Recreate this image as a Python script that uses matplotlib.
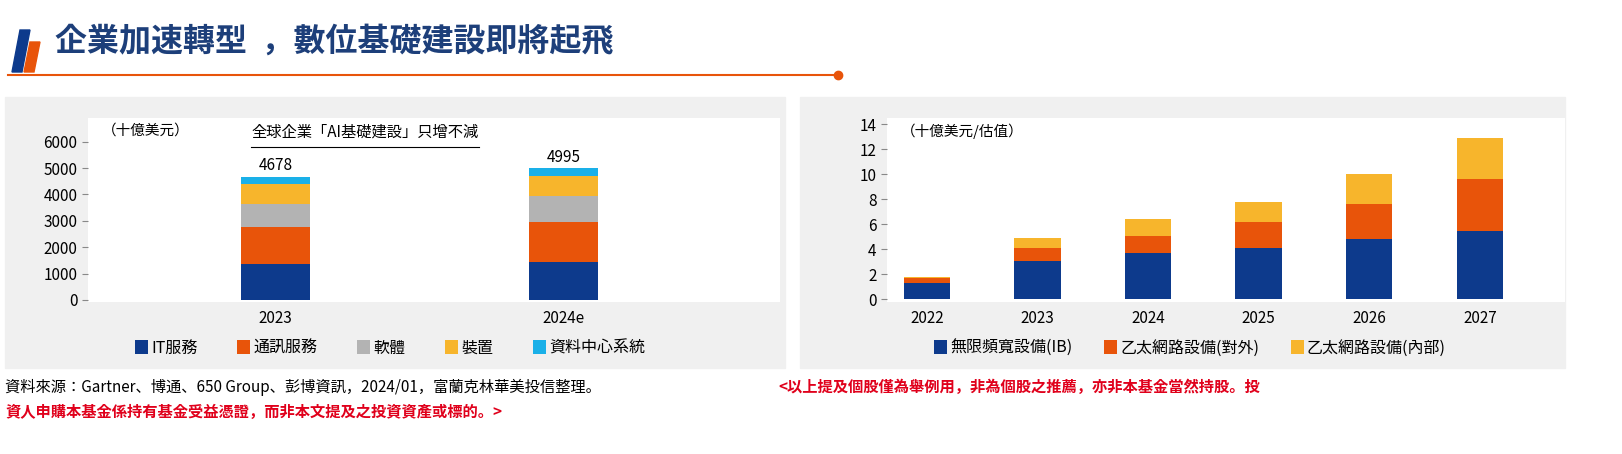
import matplotlib
matplotlib.use("Agg")
import matplotlib.pyplot as plt
from matplotlib import font_manager as fm
from matplotlib.patches import Rectangle, Polygon
from matplotlib.lines import Line2D
import numpy as np

cjk = [f.name for f in fm.fontManager.ttflist if "CJK" in f.name]
pref = [n for n in cjk if "TC" in n] or cjk
plt.rcParams["font.family"] = [pref[0] if pref else "Noto Sans CJK TC", "DejaVu Sans"]

left_cats = ["2023", "2024e"]
left_series = ["IT服務", "通訊服務", "軟體", "裝置", "資料中心系統"]
it_services = [1350, 1450]
comm_services = [1400, 1500]
software = [900, 1000]
devices = [730, 750]
datacenter = [298, 295]
left_totals = [4678, 4995]

right_cats = ["2022", "2023", "2024", "2025", "2026", "2027"]
right_series = ["無限頻寬設備(IB)", "乙太網路設備(對外)", "乙太網路設備(內部)"]
ib = [1.3, 3.1, 3.7, 4.1, 4.8, 5.5]
eth_ext = [0.4, 1.0, 1.4, 2.1, 2.8, 4.1]
eth_int = [0.1, 0.8, 1.3, 1.6, 2.4, 3.3]

navy, orange, gray, yellow, cyan = "#0d3a8c", "#e8540a", "#b3b3b3", "#f7b52c", "#1ab0e8"
W, H = 1622, 454
fig = plt.figure(figsize=(W/100, H/100), dpi=100)

def fx(x): return x / W
def fy(y): return 1 - y / H

# header
fig.patches.append(Polygon([[fx(12), fy(72)], [fx(22), fy(72)], [fx(30), fy(30)], [fx(20), fy(30)]],
                           closed=True, transform=fig.transFigure, color=navy))
fig.patches.append(Polygon([[fx(24), fy(72)], [fx(34), fy(72)], [fx(40), fy(42)], [fx(30), fy(42)]],
                           closed=True, transform=fig.transFigure, color=orange))
fig.text(fx(55), fy(42), "企業加速轉型  ，數位基礎建設即將起飛", fontsize=23, fontweight="bold",
         color="#1d3f7a", va="center")
fig.add_artist(Line2D([fx(8), fx(838)], [fy(75), fy(75)], color=orange, lw=1.5, transform=fig.transFigure))
fig.add_artist(Line2D([fx(838)], [fy(75)], marker="o", ms=6, color=orange, transform=fig.transFigure))

# panels
for x0, x1 in [(5, 785), (800, 1565)]:
    fig.patches.append(Rectangle((fx(x0), fy(368)), fx(x1 - x0), (368 - 97) / H,
                                 transform=fig.transFigure, color="#f0f0f0", zorder=-5))

def style(ax):
    for s in ["top", "right", "bottom", "left"]:
        ax.spines[s].set_visible(False)
    ax.tick_params(axis="x", length=0, labelsize=11, pad=6)
    ax.tick_params(axis="y", length=4, color="#888888", labelsize=11)
    ax.set_facecolor("white")

# left chart
axL = fig.add_axes([fx(88), fy(302), fx(780 - 88), (302 - 118) / H])
style(axL)
xl = np.arange(len(left_cats))
bottom = np.zeros(2)
colsL = [navy, orange, gray, yellow, cyan]
for vals, c, lab in zip([it_services, comm_services, software, devices, datacenter], colsL, left_series):
    axL.bar(xl, vals, 0.24, bottom=bottom, color=c, label=lab)
    bottom += np.array(vals)
for x, t in zip(xl, left_totals):
    axL.text(x, t + 100, str(t), ha="center", va="bottom", fontsize=11)
axL.set_xticks(xl, left_cats)
axL.set_xlim(-0.65, 1.75)
axL.set_ylim(-80, 6900)
axL.set_yticks(range(0, 6001, 1000))
axL.text(0.02, 0.97, "（十億美元）", transform=axL.transAxes, fontsize=10.5, va="top")
tt = axL.text(0.4, 0.97, "全球企業「AI基礎建設」只增不減", transform=axL.transAxes, fontsize=11,
              va="top", ha="center")
axL.add_artist(Line2D([0.235, 0.565], [0.845, 0.845], transform=axL.transAxes, color="black", lw=0.8))
h, l = axL.get_legend_handles_labels()
fig.legend(h, l, loc="center", bbox_to_anchor=(fx(390), fy(348)), ncol=5, frameon=False,
           fontsize=11.5, handlelength=0.8, handleheight=0.9, handletextpad=0.2, columnspacing=2.5)

# right chart
axR = fig.add_axes([fx(887), fy(302), fx(1565 - 887), (302 - 118) / H])
style(axR)
xr = np.arange(len(right_cats))
bottom = np.zeros(len(xr))
for vals, c, lab in zip([ib, eth_ext, eth_int], [navy, orange, yellow], right_series):
    axR.bar(xr, vals, 0.42, bottom=bottom, color=c, label=lab)
    bottom += np.array(vals)
axR.set_xticks(xr, right_cats)
axR.set_xlim(-0.36, 5.77)
axR.set_ylim(-0.2, 14.5)
axR.set_yticks(range(0, 15, 2))
axR.text(0.02, 0.97, "（十億美元/估值）", transform=axR.transAxes, fontsize=10.5, va="top")
h, l = axR.get_legend_handles_labels()
fig.legend(h, l, loc="center", bbox_to_anchor=(fx(1190), fy(348)), ncol=3, frameon=False,
           fontsize=11.5, handlelength=0.8, handleheight=0.9, handletextpad=0.2, columnspacing=2.0)

# footer
fig.text(fx(5), fy(387), "資料來源：Gartner、博通、650 Group、彭博資訊，2024/01，富蘭克林華美投信整理。",
         fontsize=11, va="center")
fig.text(fx(778), fy(387), "<以上提及個股僅為舉例用，非為個股之推薦，亦非本基金當然持股。投",
         fontsize=11, va="center", color="#e0001b", fontweight="bold")
fig.text(fx(5), fy(412), "資人申購本基金係持有基金受益憑證，而非本文提及之投資資產或標的。>",
         fontsize=11, va="center", color="#e0001b", fontweight="bold")

fig.savefig("out.png", dpi=100, facecolor="white")
